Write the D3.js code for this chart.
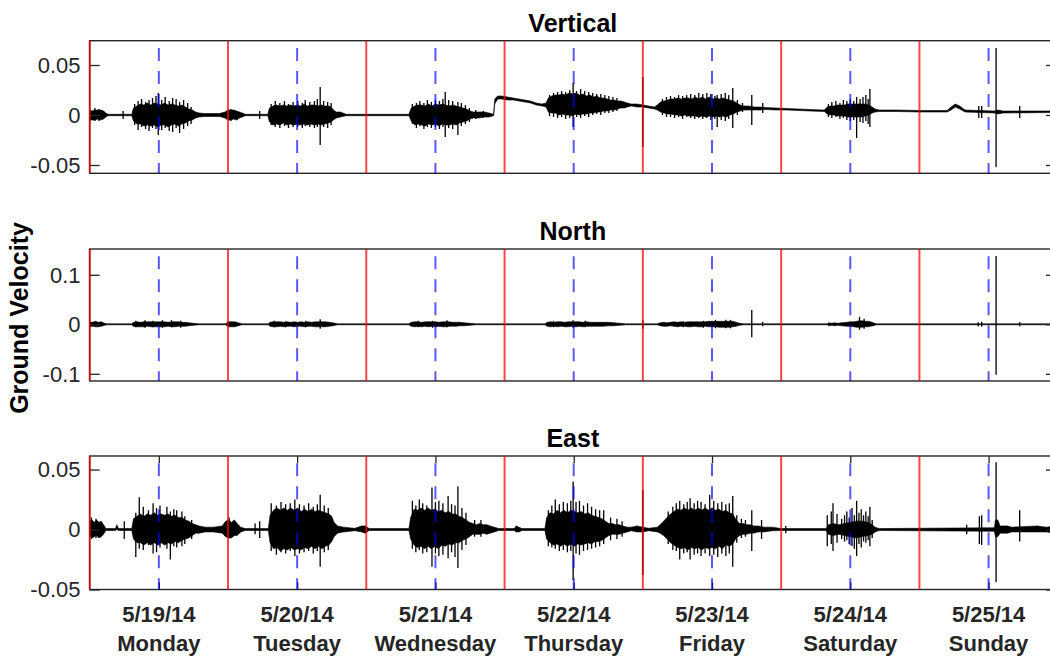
<!DOCTYPE html>
<html><head><meta charset="utf-8">
<script src="https://cdn.jsdelivr.net/npm/d3@7"></script>
<style>body{margin:0;background:#fff}svg{display:block}</style>
</head><body><svg id="chart" width="1050" height="656"></svg>
<script>
// ---------- data ----------
const panelTitles = ["Vertical", "North", "East"];
const yLimits = [[-0.0583, 0.0743], [-0.1145, 0.1521], [-0.05, 0.0613]];
const yTickValues = [[-0.05, 0, 0.05], [-0.1, 0, 0.1], [-0.05, 0, 0.05]];
const yTickLabels = [["-0.05", "0", "0.05"], ["-0.1", "0", "0.1"], ["-0.05", "0", "0.05"]];
const dateLabels = ["5/19/14", "5/20/14", "5/21/14", "5/22/14", "5/23/14", "5/24/14", "5/25/14"];
const dayLabels = ["Monday", "Tuesday", "Wednesday", "Thursday", "Friday", "Saturday", "Sunday"];
const midnightHours = [0, 24, 48, 72, 96, 120, 144];   // red lines
const noonHours = [12, 36, 60, 84, 108, 132, 156];     // blue dashed lines + ticks
const timeSpanHours = [0, 167.7];                       // hours since 5/19/14 00:00
const yAxisLabel = "Ground Velocity";

// dense core of each trace: [hours since 5/19 00:00, upper, lower]
const verticalCore = [
[0,0.005,-0.005],[0.4,0.004,-0.005],[0.9,0.005,-0.005],[1.4,0.005,-0.004],[1.9,0.005,-0.005],[2.4,0.004,-0.004],[2.8,0.002,-0.002],[3.2,0.0007,-0.0007],
[7.3,0.0007,-0.0007],[7.6,0.007,-0.006],[8.2,0.009,-0.009],[8.8,0.011,-0.009],[9.4,0.010,-0.011],[10.0,0.012,-0.010],[10.6,0.010,-0.011],[11.2,0.012,-0.010],
[11.8,0.011,-0.012],[12.4,0.010,-0.010],[13.0,0.012,-0.010],[13.6,0.010,-0.012],[14.2,0.011,-0.010],[14.8,0.010,-0.009],[15.4,0.009,-0.011],[16.0,0.010,-0.009],
[16.6,0.008,-0.008],[17.2,0.006,-0.006],[17.8,0.005,-0.005],[18.4,0.003,-0.003],[19.0,0.002,-0.002],[20.0,0.0015,-0.0015],[22.5,0.0015,-0.0015],[23.5,0.003,-0.003],
[24.0,0.005,-0.005],[24.5,0.005,-0.005],[25.0,0.005,-0.004],[25.5,0.004,-0.005],[26.0,0.003,-0.003],[26.5,0.002,-0.002],[27.0,0.0007,-0.0007],
[30.9,0.0007,-0.0007],[31.2,0.007,-0.007],[31.8,0.009,-0.010],[32.4,0.010,-0.009],[33.0,0.009,-0.010],[33.6,0.010,-0.008],[34.2,0.009,-0.010],[34.8,0.010,-0.009],
[35.4,0.009,-0.010],[36.0,0.010,-0.009],[36.6,0.009,-0.010],[37.2,0.011,-0.009],[37.8,0.009,-0.010],[38.4,0.010,-0.009],[39.0,0.010,-0.010],[39.6,0.009,-0.009],
[40.2,0.010,-0.010],[40.8,0.009,-0.009],[41.4,0.009,-0.008],[41.9,0.008,-0.007],[42.3,0.005,-0.005],[42.8,0.003,-0.003],[43.5,0.003,-0.002],[44.5,0.0007,-0.0007],
[55.4,0.0007,-0.0007],[55.8,0.007,-0.006],[56.4,0.009,-0.010],[57.0,0.010,-0.009],[57.6,0.010,-0.010],[58.2,0.009,-0.011],[58.8,0.011,-0.009],[59.4,0.009,-0.010],
[60.0,0.011,-0.009],[60.6,0.010,-0.011],[61.2,0.011,-0.009],[61.8,0.010,-0.010],[62.4,0.009,-0.010],[63.0,0.010,-0.009],[63.6,0.009,-0.010],[64.2,0.008,-0.008],
[64.8,0.007,-0.007],[65.4,0.006,-0.006],[66.0,0.004,-0.004],[66.6,0.003,-0.003],[67.5,0.003,-0.003],[68.5,0.003,-0.002],[69.3,0.002,-0.002],[70.1,0.0007,-0.0007],
[70.3,0.016,0.011],[70.8,0.019,0.016],[71.5,0.019,0.016],[72.5,0.018,0.015],[73.5,0.017,0.015],[74.5,0.016,0.014],[75.5,0.015,0.013],[76.5,0.014,0.012],
[77.5,0.012,0.010],[78.5,0.011,0.009],[79.2,0.012,0.008],[79.6,0.017,0.003],[80.2,0.019,0.002],[80.8,0.020,0.002],[81.4,0.020,0.000],[82.0,0.021,0.001],
[82.6,0.020,0.000],[83.2,0.022,0.000],[83.8,0.021,-0.001],[84.4,0.022,0.001],[85.0,0.020,0.000],[85.6,0.021,0.001],[86.2,0.019,0.001],[86.8,0.020,0.002],
[87.4,0.018,0.002],[88.0,0.019,0.003],[88.6,0.017,0.003],[89.2,0.017,0.004],[89.8,0.016,0.004],[90.4,0.015,0.005],[91.0,0.015,0.005],[91.6,0.014,0.006],
[92.2,0.014,0.007],[92.8,0.013,0.007],[93.3,0.012,0.008],[94.0,0.011,0.009],[95.0,0.011,0.008],[96.0,0.010,0.008],[97.0,0.009,0.007],[98.0,0.008,0.006],
[98.5,0.010,0.005],[99.1,0.013,0.003],[99.7,0.014,0.002],[100.3,0.015,0.001],[100.9,0.016,0.001],[101.5,0.016,0.000],[102.1,0.017,0.000],[102.7,0.016,-0.001],
[103.3,0.017,0.000],[103.9,0.017,-0.001],[104.5,0.016,-0.001],[105.1,0.018,-0.001],[105.7,0.016,-0.002],[106.3,0.018,-0.001],[106.9,0.016,-0.002],[107.5,0.018,-0.001],
[108.1,0.016,-0.002],[108.7,0.017,-0.001],[109.3,0.016,-0.002],[109.9,0.017,-0.001],[110.5,0.016,-0.002],[111.1,0.015,0.000],[111.7,0.014,0.001],[112.3,0.012,0.003],
[112.9,0.010,0.004],[113.5,0.009,0.005],[114.3,0.009,0.005],[115.4,0.008,0.005],[116.3,0.008,0.005],[117.3,0.0075,0.0055],[119.0,0.007,0.005],[121.0,0.0065,0.005],
[123.0,0.006,0.0045],[125.0,0.0055,0.004],[127.5,0.005,0.0035],[128.0,0.008,0.001],[128.6,0.009,0.000],[129.2,0.009,0.000],[129.8,0.010,-0.001],[130.4,0.010,-0.001],
[131.0,0.010,-0.001],[131.6,0.011,-0.002],[132.2,0.011,-0.002],[132.8,0.011,-0.002],[133.4,0.011,-0.002],[134.0,0.011,-0.002],[134.6,0.011,-0.001],[135.2,0.010,0.000],
[135.8,0.008,0.002],[136.3,0.006,0.003],[137.0,0.005,0.0035],[140.0,0.005,0.0035],[144.0,0.0045,0.003],[148.8,0.0045,0.003],[149.5,0.008,0.005],[150.2,0.011,0.008],
[151.0,0.009,0.006],[151.9,0.005,0.003],[157.0,0.004,0.002],[157.6,0.005,0.001],[158.5,0.004,0.002],[167.7,0.004,0.0025]
];
// individual spikes drawn as thin strokes: [hour, top, bottom]
const verticalSpikes = [
[0.9,0.007,-0.006],[1.6,0.006,-0.006],[5.8,0.004,-0.004],
[7.8,0.011,-0.010],[8.4,0.014,-0.015],[9.0,0.016,-0.012],[9.7,0.013,-0.014],[10.3,0.015,-0.016],[10.9,0.017,-0.013],[11.5,0.019,-0.014],[11.9,0.022,-0.020],
[12.5,0.015,-0.015],[13.1,0.018,-0.013],[13.8,0.014,-0.016],[14.4,0.017,-0.017],[15.0,0.016,-0.013],[15.6,0.013,-0.018],[16.3,0.015,-0.014],[17.0,0.012,-0.011],[17.6,0.008,-0.009],
[24.5,0.006,-0.006],[29.5,0.004,-0.004],
[31.5,0.011,-0.010],[32.2,0.014,-0.012],[33.0,0.012,-0.013],[33.8,0.014,-0.011],[34.5,0.011,-0.013],[35.3,0.013,-0.012],[36.1,0.014,-0.012],[36.9,0.012,-0.013],
[37.4,0.015,-0.011],[38.2,0.013,-0.012],[39.0,0.014,-0.013],[39.5,0.016,-0.012],[40.0,0.028,-0.030],[40.6,0.014,-0.012],[41.3,0.013,-0.013],[41.9,0.012,-0.010],
[56.0,0.011,-0.009],[56.7,0.012,-0.013],[57.3,0.014,-0.011],[58.0,0.012,-0.014],[58.6,0.015,-0.012],[59.3,0.013,-0.013],[60.0,0.015,-0.012],[60.7,0.014,-0.014],
[61.3,0.016,-0.012],[61.7,0.023,-0.022],[62.3,0.015,-0.013],[63.0,0.014,-0.014],[63.9,0.013,-0.020],[64.5,0.012,-0.011],[65.2,0.010,-0.009],[65.9,0.007,-0.007],
[67.0,0.005,-0.004],[68.3,0.004,-0.003],
[79.8,0.020,-0.001],[80.5,0.022,-0.002],[81.2,0.023,-0.003],[81.9,0.024,-0.002],[82.6,0.023,-0.004],[83.3,0.025,-0.003],[83.9,0.032,-0.012],[84.5,0.024,-0.002],
[85.2,0.026,-0.003],[85.9,0.024,-0.001],[86.6,0.023,-0.002],[87.3,0.022,0.000],[88.0,0.021,0.001],[88.7,0.021,0.000],[89.4,0.020,0.002],[90.1,0.019,0.002],
[90.8,0.018,0.003],[91.5,0.017,0.004],[96.0,0.038,-0.032],
[99.4,0.016,0.000],[100.1,0.018,-0.002],[100.8,0.019,-0.002],[101.5,0.018,-0.003],[102.2,0.020,-0.002],[102.9,0.019,-0.004],[103.6,0.020,-0.002],[104.3,0.021,-0.003],
[105.0,0.020,-0.004],[105.7,0.022,-0.003],[106.4,0.021,-0.004],[107.1,0.022,-0.003],[107.8,0.021,-0.005],[108.5,0.019,-0.004],[108.9,0.020,-0.012],[109.6,0.021,-0.005],
[110.3,0.022,-0.006],[110.9,0.020,-0.004],[111.6,0.027,-0.013],[112.4,0.015,0.000],[113.3,0.012,0.003],[114.9,0.020,-0.010],[116.8,0.012,0.002],
[128.2,0.011,-0.002],[128.8,0.013,-0.003],[129.5,0.014,-0.002],[130.2,0.012,-0.004],[130.8,0.015,-0.003],[131.4,0.014,-0.005],[132.0,0.016,-0.006],[132.6,0.014,-0.005],
[133.1,0.018,-0.023],[133.7,0.016,-0.007],[134.2,0.018,-0.008],[134.7,0.020,-0.006],[135.1,0.016,-0.009],[135.4,0.026,-0.012],
[154.3,0.009,-0.003],[154.8,0.009,-0.003],[157.3,0.067,-0.052],[161.4,0.009,-0.003]
];

const northCore = [
[0,0.005,-0.005],[0.5,0.004,-0.004],[1.0,0.006,-0.005],[1.5,0.004,-0.005],[2.0,0.005,-0.004],[2.6,0.002,-0.002],[3.0,0.001,-0.001],[7.3,0.001,-0.001],
[7.6,0.004,-0.004],[8.2,0.005,-0.005],[8.8,0.004,-0.005],[9.4,0.005,-0.005],[10.0,0.005,-0.004],[10.6,0.005,-0.005],[11.2,0.005,-0.005],[11.8,0.005,-0.005],
[12.4,0.005,-0.005],[13.0,0.005,-0.005],[13.6,0.004,-0.004],[14.2,0.005,-0.005],[14.8,0.005,-0.005],[15.4,0.005,-0.004],[16.0,0.004,-0.004],[16.6,0.004,-0.004],
[17.2,0.003,-0.003],[18.0,0.002,-0.002],[19.0,0.001,-0.001],[23.6,0.001,-0.001],[24.0,0.005,-0.005],[24.6,0.005,-0.005],[25.2,0.005,-0.005],[25.8,0.003,-0.003],
[26.4,0.001,-0.001],[31.0,0.001,-0.001],[31.3,0.004,-0.004],[31.9,0.005,-0.005],[32.5,0.005,-0.005],[33.1,0.005,-0.004],[33.7,0.004,-0.005],[34.3,0.005,-0.004],
[34.9,0.004,-0.004],[35.5,0.005,-0.005],[36.1,0.004,-0.004],[36.7,0.005,-0.004],[37.3,0.004,-0.005],[37.9,0.005,-0.004],[38.5,0.004,-0.004],[39.1,0.005,-0.005],
[39.6,0.005,-0.005],[40.4,0.005,-0.005],[41.0,0.005,-0.005],[41.6,0.004,-0.004],[42.2,0.003,-0.003],[43.0,0.001,-0.001],[55.4,0.001,-0.001],
[55.8,0.004,-0.004],[56.4,0.005,-0.005],[57.0,0.005,-0.004],[57.6,0.004,-0.005],[58.2,0.005,-0.004],[58.8,0.005,-0.005],[59.4,0.005,-0.004],[60.0,0.005,-0.005],
[60.6,0.004,-0.004],[61.2,0.005,-0.005],[61.8,0.005,-0.005],[62.4,0.005,-0.004],[63.0,0.004,-0.004],[63.6,0.004,-0.004],[64.2,0.004,-0.003],[65.0,0.003,-0.003],
[66.0,0.002,-0.002],[67.0,0.001,-0.001],[79.0,0.001,-0.001],[79.4,0.004,-0.004],[80.0,0.005,-0.005],[80.6,0.004,-0.004],[81.2,0.005,-0.005],[81.8,0.005,-0.004],
[82.4,0.004,-0.005],[83.0,0.005,-0.005],[83.5,0.005,-0.004],[84.4,0.005,-0.005],[85.0,0.005,-0.004],[85.6,0.004,-0.005],[86.2,0.005,-0.004],
[86.8,0.004,-0.004],[87.4,0.004,-0.004],[88.0,0.004,-0.004],[88.6,0.004,-0.004],[89.2,0.004,-0.004],[90.0,0.004,-0.003],[91.0,0.003,-0.003],[92.0,0.002,-0.002],
[93.0,0.001,-0.001],[98.5,0.001,-0.001],[99.0,0.003,-0.003],[99.6,0.004,-0.004],[100.2,0.003,-0.004],
[100.8,0.004,-0.003],[101.4,0.005,-0.004],[102.0,0.004,-0.005],[102.6,0.005,-0.004],[103.2,0.004,-0.004],[103.8,0.005,-0.005],[104.4,0.005,-0.005],[105.0,0.005,-0.004],
[105.6,0.005,-0.005],[106.2,0.005,-0.005],[106.8,0.005,-0.004],[107.4,0.006,-0.005],[108.0,0.006,-0.005],[108.6,0.006,-0.005],[109.2,0.006,-0.006],[109.8,0.006,-0.006],
[110.4,0.006,-0.006],[111.0,0.006,-0.006],[111.6,0.006,-0.005],[112.2,0.004,-0.004],[112.8,0.002,-0.002],[113.5,0.001,-0.001],[128.0,0.001,-0.001],[128.3,0.003,-0.003],[128.8,0.002,-0.002],[129.3,0.003,-0.003],
[129.8,0.002,-0.002],[130.5,0.003,-0.003],[131.4,0.004,-0.004],[132.0,0.005,-0.004],[132.6,0.005,-0.005],[133.1,0.006,-0.006],[133.6,0.007,-0.006],[134.1,0.007,-0.006],
[134.6,0.006,-0.005],[135.1,0.006,-0.005],[135.5,0.005,-0.004],[136.0,0.003,-0.003],[136.5,0.001,-0.001],[167.7,0.001,-0.001]
];
const northSpikes = [
[8.0,0.007,-0.006],[9.6,0.008,-0.007],[11.0,0.007,-0.006],[12.6,0.008,-0.007],[14.2,0.008,-0.006],[15.8,0.007,-0.007],
[32.0,0.007,-0.006],[34.0,0.006,-0.006],[37.5,0.007,-0.006],[40.0,0.010,-0.009],
[57.0,0.007,-0.006],[59.5,0.007,-0.007],[62.0,0.008,-0.006],
[80.5,0.007,-0.006],[83.9,0.008,-0.007],[86.0,0.007,-0.006],[96.0,0.009,-0.009],
[103.0,0.006,-0.006],[106.5,0.007,-0.007],[108.6,0.009,-0.008],[110.4,0.009,-0.008],[111.2,0.009,-0.008],[114.9,0.029,-0.026],[116.8,0.005,-0.004],
[133.6,0.015,-0.011],[134.4,0.011,-0.009],
[154.2,0.004,-0.004],[154.8,0.005,-0.005],[157.3,0.138,-0.102],[161.4,0.004,-0.004]
];

const eastCore = [
[0,0.007,-0.005],[0.4,0.008,-0.007],[0.8,0.006,-0.006],[1.2,0.008,-0.005],[1.6,0.006,-0.007],[2.0,0.007,-0.006],[2.4,0.004,-0.004],[2.8,0.0008,-0.0008],
[4.5,0.0008,-0.0008],[4.7,0.004,0.000],[5.0,0.0008,-0.0008],
[7.3,0.0008,-0.0008],[7.6,0.009,-0.008],[8.2,0.011,-0.011],[8.8,0.013,-0.011],[9.4,0.011,-0.013],[10.0,0.013,-0.011],[10.6,0.012,-0.013],[11.2,0.014,-0.011],
[11.8,0.012,-0.013],[12.4,0.013,-0.011],[13.0,0.012,-0.013],[13.6,0.013,-0.011],[14.2,0.011,-0.012],[14.8,0.012,-0.010],[15.4,0.010,-0.011],[16.0,0.010,-0.009],
[16.6,0.008,-0.008],[17.2,0.007,-0.007],[17.8,0.005,-0.005],[18.4,0.004,-0.003],[19.0,0.003,-0.003],[20.0,0.002,-0.002],[21.5,0.002,-0.002],[23.0,0.003,-0.003],
[23.6,0.007,-0.006],[24.1,0.008,-0.007],[24.6,0.006,-0.007],[25.1,0.008,-0.005],[25.6,0.005,-0.005],[26.2,0.002,-0.002],[27.0,0.0008,-0.0008],
[31.0,0.0008,-0.0008],[31.3,0.012,-0.011],[31.9,0.016,-0.016],[32.5,0.018,-0.015],[33.1,0.016,-0.018],[33.7,0.018,-0.016],[34.3,0.016,-0.017],[34.9,0.018,-0.015],
[35.5,0.016,-0.017],[36.1,0.018,-0.016],[36.7,0.015,-0.017],[37.3,0.017,-0.015],[37.9,0.015,-0.016],[38.5,0.017,-0.014],[39.1,0.015,-0.016],[39.7,0.016,-0.014],
[40.3,0.015,-0.016],[40.9,0.014,-0.014],[41.5,0.013,-0.013],[42.0,0.011,-0.010],[42.4,0.006,-0.006],[43.0,0.003,-0.003],[44.0,0.002,-0.002],[46.0,0.001,-0.001],
[47.2,0.003,-0.002],[47.8,0.003,-0.003],[48.5,0.0008,-0.0008],
[55.4,0.0008,-0.0008],[55.7,0.010,-0.008],[56.3,0.017,-0.013],[56.9,0.016,-0.015],[57.5,0.018,-0.014],[58.1,0.016,-0.016],[58.7,0.018,-0.014],[59.3,0.016,-0.016],
[59.9,0.017,-0.014],[60.5,0.015,-0.016],[61.1,0.016,-0.013],[61.7,0.014,-0.014],[62.3,0.015,-0.012],[62.9,0.013,-0.013],[63.5,0.013,-0.011],[64.1,0.011,-0.011],
[64.7,0.010,-0.009],[65.3,0.008,-0.008],[65.9,0.006,-0.006],[66.5,0.005,-0.004],[67.1,0.004,-0.004],[67.7,0.005,-0.004],[68.3,0.004,-0.003],[68.9,0.004,-0.004],
[69.5,0.003,-0.003],[70.2,0.002,-0.002],[71.0,0.0008,-0.0008],[73.7,0.0008,-0.0008],[74.0,0.003,-0.002],[74.5,0.002,-0.002],[75.0,0.0008,-0.0008],
[79.0,0.0008,-0.0008],[79.3,0.010,-0.008],[79.9,0.014,-0.011],[80.5,0.013,-0.013],[81.1,0.016,-0.012],[81.7,0.014,-0.014],[82.3,0.016,-0.012],[82.9,0.014,-0.014],
[83.5,0.016,-0.012],[84.1,0.015,-0.014],[84.7,0.014,-0.012],[85.3,0.015,-0.013],[85.9,0.013,-0.012],[86.5,0.014,-0.011],[87.1,0.012,-0.012],[87.7,0.011,-0.010],
[88.3,0.010,-0.010],[88.9,0.009,-0.009],[89.5,0.007,-0.007],[90.1,0.005,-0.005],[90.7,0.005,-0.004],[91.3,0.004,-0.004],[91.9,0.004,-0.004],[92.5,0.003,-0.003],
[93.3,0.002,-0.002],[94.0,0.002,-0.001],[95.0,0.003,-0.002],[96.0,0.002,-0.002],[97.0,0.001,-0.001],
[98.5,0.002,-0.002],[99.0,0.004,-0.003],[99.6,0.007,-0.005],[100.2,0.010,-0.008],[100.8,0.013,-0.011],[101.4,0.015,-0.013],[102.0,0.017,-0.015],[102.6,0.016,-0.016],
[103.2,0.018,-0.015],[103.8,0.016,-0.017],[104.4,0.018,-0.015],[105.0,0.016,-0.016],[105.6,0.018,-0.015],[106.2,0.016,-0.017],[106.8,0.018,-0.015],[107.4,0.016,-0.016],
[108.0,0.018,-0.015],[108.6,0.016,-0.016],[109.2,0.017,-0.014],[109.8,0.015,-0.016],[110.4,0.016,-0.013],[111.0,0.014,-0.014],[111.6,0.013,-0.012],[112.2,0.008,-0.007],
[112.8,0.005,-0.005],[113.4,0.005,-0.004],[114.0,0.004,-0.004],[114.6,0.004,-0.003],[115.2,0.003,-0.003],[116.0,0.003,-0.002],[117.0,0.002,-0.002],[118.5,0.002,-0.001],
[120.0,0.0008,-0.0008],[127.8,0.0008,-0.0008],[128.2,0.004,-0.004],[129.0,0.005,-0.005],[130.0,0.004,-0.004],[131.0,0.005,-0.005],[132.0,0.006,-0.006],[133.0,0.007,-0.007],
[134.0,0.007,-0.006],[135.0,0.006,-0.005],[135.8,0.004,-0.004],[136.3,0.002,-0.002],[137.0,0.0008,-0.0008],
[157.0,0.0015,-0.0015],[157.2,0.008,-0.006],[157.6,0.008,-0.006],[158.0,0.003,-0.003],[159.3,0.003,-0.003],[160.0,0.002,-0.002],[164.5,0.003,-0.002],[166.0,0.002,-0.002],
[167.7,0.003,-0.003]
];
const eastSpikes = [
[0.3,0.010,-0.008],[1.1,0.009,-0.007],[6.0,0.007,-0.008],
[8.0,0.014,-0.023],[8.6,0.027,-0.016],[9.3,0.019,-0.017],[10.2,0.016,-0.013],[11.0,0.022,-0.020],[11.6,0.018,-0.019],[12.2,0.020,-0.015],[13.4,0.019,-0.016],
[14.0,0.015,-0.025],[14.6,0.017,-0.014],[15.1,0.016,-0.015],[16.0,0.015,-0.014],[16.5,0.011,-0.012],[17.7,0.008,-0.008],
[24.2,0.010,-0.007],[28.7,0.005,-0.004],[29.5,0.007,-0.007],
[31.5,0.022,-0.018],[32.4,0.020,-0.021],[33.2,0.023,-0.019],[34.0,0.021,-0.020],[34.8,0.022,-0.018],[35.6,0.025,-0.022],[36.4,0.021,-0.020],[37.2,0.020,-0.019],
[38.0,0.022,-0.018],[38.8,0.019,-0.020],[39.5,0.021,-0.018],[40.0,0.029,-0.031],[40.7,0.020,-0.019],[41.4,0.018,-0.017],
[56.0,0.024,-0.016],[56.6,0.020,-0.019],[57.2,0.025,-0.017],[57.8,0.022,-0.020],[58.5,0.020,-0.019],[59.4,0.035,-0.031],[60.0,0.023,-0.020],[60.6,0.024,-0.022],
[61.3,0.022,-0.021],[62.2,0.028,-0.024],[62.8,0.021,-0.019],[63.4,0.020,-0.023],[63.9,0.036,-0.032],[64.6,0.018,-0.017],[65.3,0.014,-0.013],[66.8,0.008,-0.006],[67.9,0.008,-0.006],
[79.6,0.016,-0.014],[80.2,0.020,-0.015],[80.8,0.025,-0.016],[81.5,0.021,-0.018],[82.2,0.023,-0.017],[82.9,0.022,-0.019],[83.5,0.024,-0.018],[83.9,0.040,-0.042],
[84.4,0.023,-0.020],[85.0,0.024,-0.021],[85.7,0.020,-0.018],[86.4,0.022,-0.017],[87.1,0.019,-0.016],[87.8,0.017,-0.015],[88.5,0.016,-0.014],[89.2,0.016,-0.012],
[90.4,0.010,-0.009],[91.5,0.009,-0.008],[92.4,0.007,-0.006],[96.0,0.033,-0.038],
[100.4,0.015,-0.012],[101.2,0.019,-0.017],[101.8,0.022,-0.018],[102.4,0.024,-0.025],[103.1,0.021,-0.020],[103.7,0.023,-0.019],[104.2,0.026,-0.025],[104.9,0.022,-0.021],
[105.5,0.024,-0.020],[106.1,0.023,-0.022],[106.8,0.021,-0.020],[107.6,0.029,-0.022],[108.3,0.024,-0.021],[109.0,0.022,-0.023],[109.7,0.023,-0.020],[110.4,0.021,-0.022],
[111.0,0.022,-0.020],[111.6,0.028,-0.031],[112.3,0.012,-0.011],[113.1,0.009,-0.007],[113.8,0.008,-0.006],[114.9,0.016,-0.018],[116.6,0.008,-0.008],[120.8,0.003,-0.003],
[128.0,0.012,-0.014],[128.7,0.015,-0.012],[129.0,0.022,-0.018],[129.7,0.013,-0.011],[130.5,0.009,-0.008],[131.0,0.012,-0.010],[131.4,0.015,-0.009],[131.8,0.010,-0.012],
[132.3,0.018,-0.014],[132.7,0.012,-0.016],[133.1,0.024,-0.022],[133.5,0.014,-0.012],[133.9,0.017,-0.015],[134.3,0.012,-0.010],[134.7,0.015,-0.011],[135.1,0.011,-0.009],
[135.4,0.019,-0.014],[135.8,0.008,-0.007],
[152.2,0.004,-0.004],[154.4,0.011,-0.012],[154.8,0.012,-0.013],[157.3,0.056,-0.044],[161.4,0.016,-0.010]
];
const cores = [verticalCore, northCore, eastCore];
const spikes = [verticalSpikes, northSpikes, eastSpikes];

// ---------- layout ----------
const svg = d3.select("#chart");
const plotLeft = 89.7, plotRight = 1056;
const panelBounds = [[40.7, 173.3], [249, 381], [456, 589.5]];
const titleBaselines = [31.5, 240, 447];
const axisColor = "#262626";
const font = "'Liberation Sans', Arial, Helvetica, sans-serif";

const x = d3.scaleLinear().domain(timeSpanHours).range([plotLeft, plotRight]);

svg.append("defs").selectAll("clipPath").data(panelBounds).join("clipPath")
  .attr("id", (d, i) => "clip" + i)
  .append("rect").attr("x", plotLeft).attr("y", d => d[0])
  .attr("width", plotRight - plotLeft).attr("height", d => d[1] - d[0]);

panelBounds.forEach((b, i) => {
  const y = d3.scaleLinear().domain(yLimits[i]).range([b[1], b[0]]);
  const g = svg.append("g");
  const plot = g.append("g").attr("clip-path", `url(#clip${i})`);

  // dense trace core
  const area = d3.area().x(d => x(d[0])).y0(d => y(d[2])).y1(d => y(d[1]));
  plot.append("path").datum(cores[i]).attr("d", area)
    .attr("fill", "#000").attr("stroke", "#000").attr("stroke-width", 0.6)
    .attr("stroke-linejoin", "round");
  // individual spikes
  plot.selectAll("line.spike").data(spikes[i]).join("line").attr("class", "spike")
    .attr("x1", d => x(d[0])).attr("x2", d => x(d[0]))
    .attr("y1", d => y(d[1])).attr("y2", d => y(d[2]))
    .attr("stroke", "#000").attr("stroke-width", 1.3);

  // axes box (right edge is outside the window)
  g.append("rect").attr("x", plotLeft).attr("y", b[0])
    .attr("width", plotRight - plotLeft).attr("height", b[1] - b[0])
    .attr("fill", "none").attr("stroke", axisColor).attr("stroke-width", 1.4);

  // y axis ticks (left & right, inward)
  const styleTicks = s => { s.select(".domain").remove(); s.selectAll("line").attr("stroke", axisColor).attr("stroke-width", 1.3); };
  g.append("g").attr("transform", `translate(${plotLeft},0)`)
    .call(d3.axisRight(y).tickValues(yTickValues[i]).tickSize(10).tickFormat("")).call(styleTicks);
  g.append("g").attr("transform", `translate(${plotRight},0)`)
    .call(d3.axisLeft(y).tickValues(yTickValues[i]).tickSize(10).tickFormat("")).call(styleTicks);

  g.selectAll("text.ytl").data(yTickValues[i]).join("text").attr("class", "ytl")
    .attr("x", 80.5).attr("y", d => y(d)).attr("dy", "0.36em")
    .attr("text-anchor", "end").attr("font-family", font).attr("font-size", 22)
    .attr("fill", axisColor).text((d, k) => yTickLabels[i][k]);

  // x ticks for bottom panel only
  if (i === 2) {
    g.append("g").attr("transform", `translate(0,${b[0]})`)
      .call(d3.axisBottom(x).tickValues(noonHours).tickSize(7).tickFormat("")).call(styleTicks);
    g.append("g").attr("transform", `translate(0,${b[1]})`)
      .call(d3.axisTop(x).tickValues(noonHours).tickSize(7).tickFormat("")).call(styleTicks);
  }

  // red midnight lines
  g.selectAll("line.mid").data(midnightHours).join("line").attr("class", "mid")
    .attr("x1", d => x(d)).attr("x2", d => x(d)).attr("y1", b[0]).attr("y2", b[1])
    .attr("stroke", "rgba(255,0,0,0.72)").attr("stroke-width", 2);

  // blue dashed noon lines
  g.selectAll("line.noon").data(noonHours).join("line").attr("class", "noon")
    .attr("x1", d => x(d)).attr("x2", d => x(d)).attr("y1", b[0] + 7.3).attr("y2", b[1])
    .attr("stroke", "rgba(0,0,255,0.65)").attr("stroke-width", 2)
    .attr("stroke-dasharray", "13,10");

  // title
  svg.append("text").attr("x", (plotLeft + plotRight) / 2).attr("y", titleBaselines[i])
    .attr("text-anchor", "middle").attr("font-family", font).attr("font-weight", "bold")
    .attr("font-size", 25).attr("fill", "#000").text(panelTitles[i]);
});

// x tick labels (dates and weekdays)
svg.selectAll("text.date").data(noonHours).join("text").attr("class", "date")
  .attr("x", d => x(d)).attr("y", 621.5).attr("text-anchor", "middle")
  .attr("font-family", font).attr("font-weight", "bold").attr("font-size", 22)
  .attr("fill", axisColor).text((d, k) => dateLabels[k]);
svg.selectAll("text.day").data(noonHours).join("text").attr("class", "day")
  .attr("x", d => x(d)).attr("y", 650.5).attr("text-anchor", "middle")
  .attr("font-family", font).attr("font-weight", "bold").attr("font-size", 22)
  .attr("fill", axisColor).text((d, k) => dayLabels[k]);

// y label
svg.append("text").attr("transform", "translate(28,318) rotate(-90)")
  .attr("text-anchor", "middle").attr("font-family", font).attr("font-weight", "bold")
  .attr("font-size", 25).attr("fill", "#000").text(yAxisLabel);
</script></body></html>
